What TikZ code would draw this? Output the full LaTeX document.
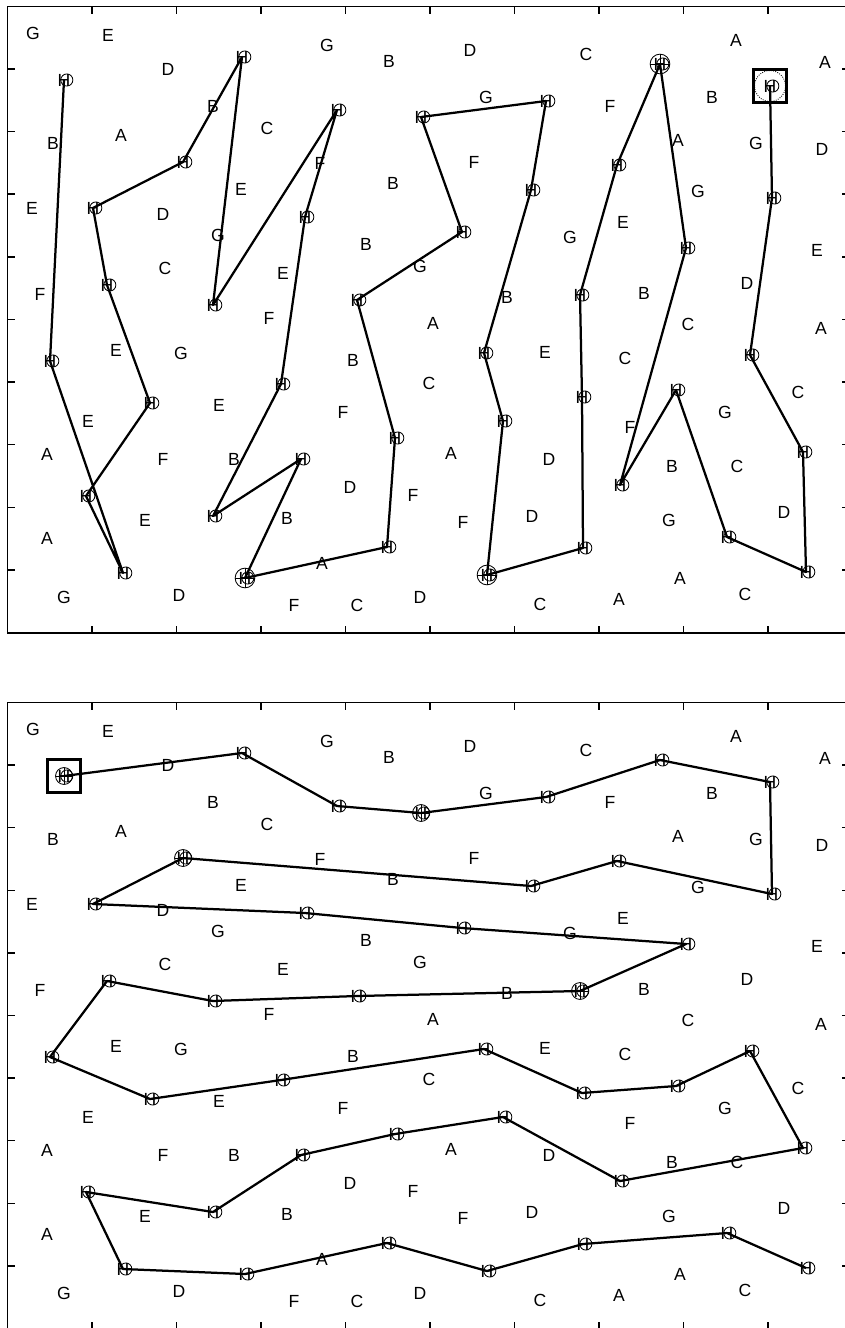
\documentclass[tikz,border=0pt]{standalone}
\usepackage{fontspec}
\setmainfont{Liberation Sans}
\usepackage{tikz}

% the letters of the board (x, y in pixels from the top left corner)
\def\letterlist{G/33/33, E/108/35, D/168/69, G/327/45, B/389/61, D/470/50, C/586/54, A/736/40, A/825/62,
  B/53/143, A/121/135, B/213/106, C/267/128, F/320/163, G/486/97, F/610/106, B/712/97, A/678/140, G/756/143, D/822/149,
  E/32/208, D/163/214, E/241/189, B/393/183, F/474/162, G/698/191, E/623/222,
  G/218/235, B/366/244, G/570/237, E/817/250, C/165/268, E/283/273, G/420/266,
  F/40/294, F/269/318, B/507/297, B/644/293, D/747/283,
  A/433/323, C/688/324, A/821/328,
  E/116/350, G/181/353, B/353/360, E/545/352, C/625/358,
  C/429/383, C/798/392, E/219/405, F/343/412, E/88/421, G/725/412, F/630/427,
  A/47/454, F/163/459, B/234/459, A/451/453, D/549/459, B/672/466, C/737/466,
  D/350/487, F/413/495,
  E/145/520, B/287/518, F/463/522, D/532/516, G/669/520, D/784/512,
  A/47/538, A/322/563, A/680/578,
  G/64/597, D/179/595, F/294/605, C/357/605, D/420/597, C/540/604, A/619/599, C/745/594}
% the targets H, numbered along the column-wise tour
\def\stoplist{770/86, 772/198, 750/355, 803/452, 806/572, 727/537, 676/390, 620/485, 686/248, 660/64,
  617/165, 580/295, 582/397, 583/548, 487/575, 503/421, 484/353, 531/190, 546/101, 421/117,
  462/232, 357/300, 395/438, 387/547, 245/578, 301/459, 213/516, 281/384, 305/217, 337/110,
  213/305, 242/57, 183/162, 93/208, 107/285, 150/403, 86/496, 123/573, 50/361, 64/80}

\tikzset{
  letter/.style={inner sep=0pt, font=\fontsize{12.5}{13}\selectfont},
  ring/.style={line width=0.6pt},
  tour/.style={line width=1.6pt, line join=round},
  frame/.style={line width=1pt},
}

\begin{document}
\begin{tikzpicture}[x=0.025cm, y=-0.025cm]
\useasboundingbox (0,0) rectangle (844,1328);
%% ------------------------------------------------------------------ the two boards
\foreach \p/\dy in {u/0, l/696}{
  \begin{scope}[shift={(0,\dy)}]
    % axes box and its ticks
    \draw[frame] (7.5,6.5) rectangle (850,633);
    \foreach \k in {0,...,8}{
      \draw[frame] ({92+84.5*\k},6.5) -- ++(0,7);
      \draw[frame] ({92+84.5*\k},633) -- ++(0,-7);
      \draw[frame] (7.5,{69+62.6*\k}) -- ++(7,0);
      \draw[frame] (850,{69+62.6*\k}) -- ++(-8,0);
    }
    \foreach \ltr/\x/\y [count=\i] in \letterlist
      \node[letter] (\p let\i) at (\x,\y) {\ltr};
    \foreach \x/\y [count=\i] in \stoplist{
      \node[letter] (\p\i) at (\x,\y) {H};
      \draw[ring] (\p\i.center) ++(2pt,0) circle (4.3pt);
    }
  \end{scope}
}
%% ------------------------------------------------------------------ upper tour
\draw[tour] (u1.center) \foreach \i in {2,...,40}{ -- (u\i.center)};
\foreach \i in {10,25,15}{
  \draw[ring] (u\i.center) circle (7pt);
  \draw[ring] (u\i.center) +(-7pt,0) -- +(7pt,0) +(0,-7pt) -- +(0,7pt);
}
\node[draw, line width=2pt, minimum size=24pt, inner sep=0pt] (ustart) at (u1) {};
\draw[ring, densely dotted] (u1.center) circle (11pt);
%% ------------------------------------------------------------------ lower tour
\draw[tour] (l40.center) \foreach \i in {32,30,20,19,10,1,2,11,18,33,34,29,21,9,12,22,31,35,39,
  36,28,17,13,7,3,4,8,16,23,26,27,37,38,25,24,15,14,6,5}{ -- (l\i.center)};
\foreach \i in {20,33,12,40}{
  \draw[ring] (l\i.center) circle (6pt);
  \draw[ring] (l\i.center) +(-6pt,0) -- +(6pt,0) +(0,-6pt) -- +(0,6pt);
}
\node[draw, line width=2pt, minimum size=24pt, inner sep=0pt] (lstart) at (l40) {};
\end{tikzpicture}
\end{document}
